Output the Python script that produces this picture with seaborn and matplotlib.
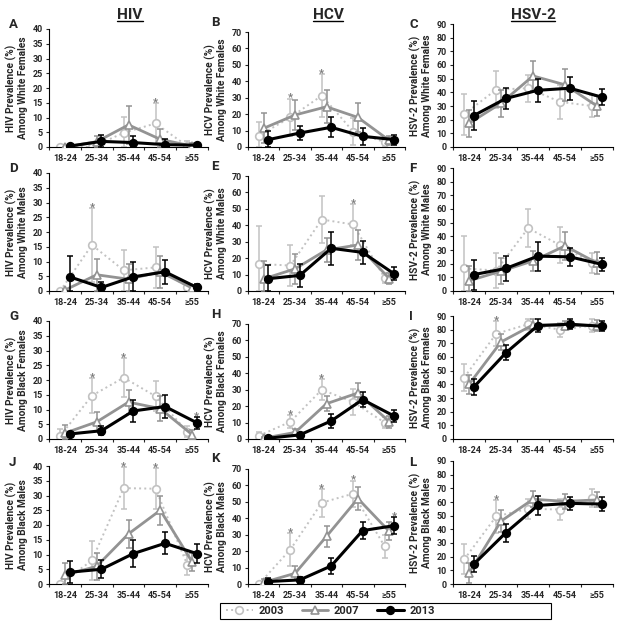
import matplotlib
matplotlib.use("Agg")
import matplotlib.pyplot as plt
from matplotlib.lines import Line2D
from matplotlib.patches import Rectangle
import numpy as np
import seaborn as sns

ages = ["18-24", "25-34", "35-44", "45-54", "\u226555"]
years = ["2003", "2007", "2013"]

# prevalence (%), rows = 2003, 2007, 2013 ; *_err = half width of the error bar
hiv_wf = [[0, 0, 4.8, 8, 0.3], [0, 1.8, 7.5, 2.6, 0.3], [0.3, 1.9, 1.5, 0.8, 0.6]]
hiv_wf_err = [[0, 0, 5.5, 7, 1.7], [0, 1.8, 6.4, 3.6, 1], [0.3, 2.3, 2.2, 1.8, 0.5]]
hcv_wf = [[7, 18, 31.3, 9.4, 3], [11.4, 19.5, 24.5, 18, 4], [4.5, 8.5, 12, 6.5, 4.5]]
hcv_wf_err = [[8.5, 11.5, 13, 8, 3], [9, 9, 10, 9, 3], [5, 4, 6, 5, 3]]
hsv_wf = [[24, 42, 43, 33, 30], [17.3, 32, 52, 45.5, 30], [23, 35.5, 41.5, 43, 36.5]]
hsv_wf_err = [[15, 13.5, 10, 12.5, 8], [10, 10, 11, 11.5, 7], [10.5, 7.5, 8.5, 8.5, 6]]

hiv_wm = [[0, 15.6, 7, 8, 1.5], [0.3, 5.5, 4, 6.5, 1], [4.8, 1.2, 4.8, 6.5, 1.2]]
hiv_wm_err = [[0, 12.5, 7, 7, 1.3], [0.3, 5.5, 5, 5.5, 1], [7.2, 2, 5, 4, 1.2]]
hcv_wm = [[16.5, 15.5, 43.5, 40.5, 8], [7.4, 13.5, 25, 28, 7.5], [7.5, 9.5, 26, 23.5, 10.5]]
hcv_wm_err = [[23, 12.5, 14.5, 12.5, 3], [11, 9, 7.5, 9, 3.5], [8.5, 7, 10, 7, 4]]
hsv_wm = [[16.5, 15, 46, 33.5, 20.5], [7.5, 14.5, 22, 33, 20.5], [12, 16.5, 25.5, 25, 19.5]]
hsv_wm_err = [[24, 13, 14, 13, 7], [10.5, 9.5, 7.5, 10, 8], [11, 9, 10.5, 6.5, 5]]

hiv_bf = [[1, 14.7, 20.8, 14.5, 2.5], [2, 5.8, 12.5, 10.3, 1.5], [1.7, 2.8, 9.5, 11, 5.5]]
hiv_bf_err = [[2.3, 6, 6.5, 5, 1.8], [2.8, 3.2, 4, 4.3, 1.5], [0.8, 1.5, 3.8, 4, 2]]
hcv_bf = [[2, 10.5, 30, 22.5, 10], [0.5, 4, 21.5, 28, 10.5], [0.5, 2.5, 11, 24, 14]]
hcv_bf_err = [[2, 4, 6.5, 8, 3.5], [0.5, 2.3, 4.5, 6, 3.8], [0.4, 1.2, 4, 4.6, 3.7]]
hsv_bf = [[45, 77, 84, 80, 83], [40, 71, 83.5, 83, 83], [38, 63, 83, 84, 82.5]]
hsv_bf_err = [[10, 9, 4, 5, 4.5], [7, 6, 4, 3.5, 4], [6, 5.5, 4.5, 3.5, 3.5]]

hiv_bm = [[0, 8, 32.5, 32.3, 6.5], [3, 6, 17, 25, 7.5], [4, 5, 10.3, 13.8, 10.3]]
hiv_bm_err = [[0.3, 6.5, 7, 7, 3.5], [4, 4.5, 4.8, 5, 3], [3.8, 3, 4.5, 3.7, 3.2]]
hcv_bm = [[0, 21, 49.5, 55, 23], [1, 6.5, 29, 52, 32], [1.5, 2.5, 11, 32.5, 35.5]]
hcv_bm_err = [[0.3, 10, 8.5, 8, 7], [2, 4.3, 6.5, 6.8, 5.5], [2, 2, 5, 5, 5]]
hsv_bm = [[18, 49.5, 55, 54.5, 63], [8, 46, 62, 60.5, 61.5], [14.5, 37.5, 57.5, 59, 58.5]]
hsv_bm_err = [[11, 12, 7.5, 7.5, 6.5], [7.5, 8, 6, 5.5, 5.5], [6, 6.5, 6.8, 4.8, 5]]

# significance stars: (age index, year index)
stars = {
    "A": [(3, 0)], "B": [(1, 0), (2, 0)], "C": [],
    "D": [(1, 0)], "E": [(3, 0)], "F": [],
    "G": [(1, 0), (2, 0), (4, 2)], "H": [(1, 0), (2, 0)], "I": [(1, 0)],
    "J": [(2, 0), (3, 0)], "K": [(1, 0), (2, 0), (3, 0), (4, 2)], "L": [(1, 0)],
}

panels = [
    ("A", "HIV", "White Females", hiv_wf, hiv_wf_err),
    ("B", "HCV", "White Females", hcv_wf, hcv_wf_err),
    ("C", "HSV-2", "White Females", hsv_wf, hsv_wf_err),
    ("D", "HIV", "White Males", hiv_wm, hiv_wm_err),
    ("E", "HCV", "White Males", hcv_wm, hcv_wm_err),
    ("F", "HSV-2", "White Males", hsv_wm, hsv_wm_err),
    ("G", "HIV", "Black Females", hiv_bf, hiv_bf_err),
    ("H", "HCV", "Black Females", hcv_bf, hcv_bf_err),
    ("I", "HSV-2", "Black Females", hsv_bf, hsv_bf_err),
    ("J", "HIV", "Black Males", hiv_bm, hiv_bm_err),
    ("K", "HCV", "Black Males", hcv_bm, hcv_bm_err),
    ("L", "HSV-2", "Black Males", hsv_bm, hsv_bm_err),
]

sns.set_style("ticks")
plt.rcParams["font.family"] = ["Roboto", "DejaVu Sans"]
plt.rcParams["font.weight"] = "bold"

yscale = {"HIV": (40, 5), "HCV": (70, 10), "HSV-2": (90, 10)}
styles = {
    "2003": dict(color="#c2c2c2", linestyle=":", linewidth=1.4, marker="o",
                 markerfacecolor="white", markersize=5.5, dodge=-0.15, z=2),
    "2007": dict(color="#939393", linestyle="-", linewidth=2.0, marker="^",
                 markerfacecolor="white", markersize=6, dodge=0.0, z=3),
    "2013": dict(color="black", linestyle="-", linewidth=2.2, marker="o",
                 markerfacecolor="black", markersize=5.5, dodge=0.15, z=4),
}

W, H = 624, 631
fig = plt.figure(figsize=(W / 100, H / 100), dpi=100)
col_left = [49, 248, 453]
col_width = [159, 157, 160]
col_height = [118, 115, 123]
row_zero = [147, 291, 439, 584]
letter_pos = [(9, 25), (211, 22), (409, 25)]

for i, (letter, virus, group, vals, errs) in enumerate(panels):
    r, c = divmod(i, 3)
    ax = fig.add_axes([col_left[c] / W, 1 - row_zero[r] / H,
                       col_width[c] / W, col_height[c] / H])
    ymax, step = yscale[virus]
    x0 = np.arange(len(ages))
    for k, yr in enumerate(years):
        st = styles[yr]
        xs = x0 + st["dodge"]
        v = np.array(vals[k], dtype=float)
        e = np.array(errs[k], dtype=float)
        lo = np.minimum(e, v)
        ax.errorbar(xs, v, yerr=[lo, e], fmt="none", ecolor=st["color"],
                    elinewidth=1.1, capsize=2.2, capthick=1.1, zorder=st["z"])
        sns.lineplot(x=xs, y=v, ax=ax, color=st["color"], linestyle=st["linestyle"],
                     linewidth=st["linewidth"], marker=st["marker"],
                     markerfacecolor=st["markerfacecolor"], markeredgecolor=st["color"],
                     markeredgewidth=1.2, markersize=st["markersize"],
                     errorbar=None, zorder=st["z"] + 0.5)
    for a, k in stars[letter]:
        st = styles[years[k]]
        top = vals[k][a] + errs[k][a]
        ax.annotate("*", (a + st["dodge"], top), xytext=(0, -1.5),
                    textcoords="offset points", ha="center", va="baseline",
                    fontsize=8, color="#7a7a7a")
    ax.set_xlim(-0.5, 4.5)
    ax.set_ylim(0, ymax)
    ax.set_yticks(np.arange(0, ymax + 1, step))
    ax.set_xticks(x0)
    ax.set_xticklabels(ages)
    ax.set_xticks(np.arange(-0.5, 4.6, 1), minor=True)
    ax.tick_params(axis="x", which="major", length=0, pad=5, labelsize=6.5)
    ax.tick_params(axis="x", which="minor", length=2.5, width=0.8, direction="out")
    ax.tick_params(axis="y", length=2.5, width=0.8, pad=2, labelsize=6.5)
    for lab in ax.get_xticklabels() + ax.get_yticklabels():
        lab.set_fontweight("bold")
    sns.despine(ax=ax)
    for s in ("left", "bottom"):
        ax.spines[s].set_color("black")
        ax.spines[s].set_linewidth(0.8)
    ax.set_xlabel("")
    ax.set_ylabel(f"{virus} Prevalence (%)\nAmong {group}", fontsize=7.3,
                  fontweight="bold", labelpad=3, linespacing=1.1)
    lx, ly = letter_pos[c]
    ly = ly + (row_zero[r] - row_zero[0])
    fig.text(lx / W, 1 - ly / H, letter, fontsize=9.5, fontweight="bold",
             ha="left", va="center")

# column titles, underlined
renderer = fig.canvas.get_renderer()
for cx, title in zip([130, 328, 533], ["HIV", "HCV", "HSV-2"]):
    t = fig.text(cx / W, 1 - 15 / H, title, fontsize=11, fontweight="bold",
                 ha="center", va="center")
    bb = t.get_window_extent(renderer).transformed(fig.transFigure.inverted())
    fig.add_artist(Line2D([bb.x0, bb.x1], [bb.y0 + 0.002, bb.y0 + 0.002],
                          transform=fig.transFigure, color="black", lw=1.0))

# legend
handles = []
for yr in years:
    st = styles[yr]
    handles.append(Line2D([], [], color=st["color"], linestyle=st["linestyle"],
                          linewidth=st["linewidth"], marker=st["marker"],
                          markerfacecolor=st["markerfacecolor"],
                          markeredgecolor=st["color"], markeredgewidth=1.2,
                          markersize=st["markersize"]))
fig.legend(handles, years, loc="center left", bbox_to_anchor=(216 / W, 1 - 611 / H),
           ncol=3, frameon=False, handlelength=2.4, columnspacing=1.6,
           handletextpad=0.5, prop={"weight": "bold", "size": 8})
fig.add_artist(Rectangle((220 / W, 1 - 619 / H), 331 / W, 16 / H,
                         transform=fig.transFigure, fill=False,
                         edgecolor="black", linewidth=0.8))

fig.savefig("out.png", dpi=100)
